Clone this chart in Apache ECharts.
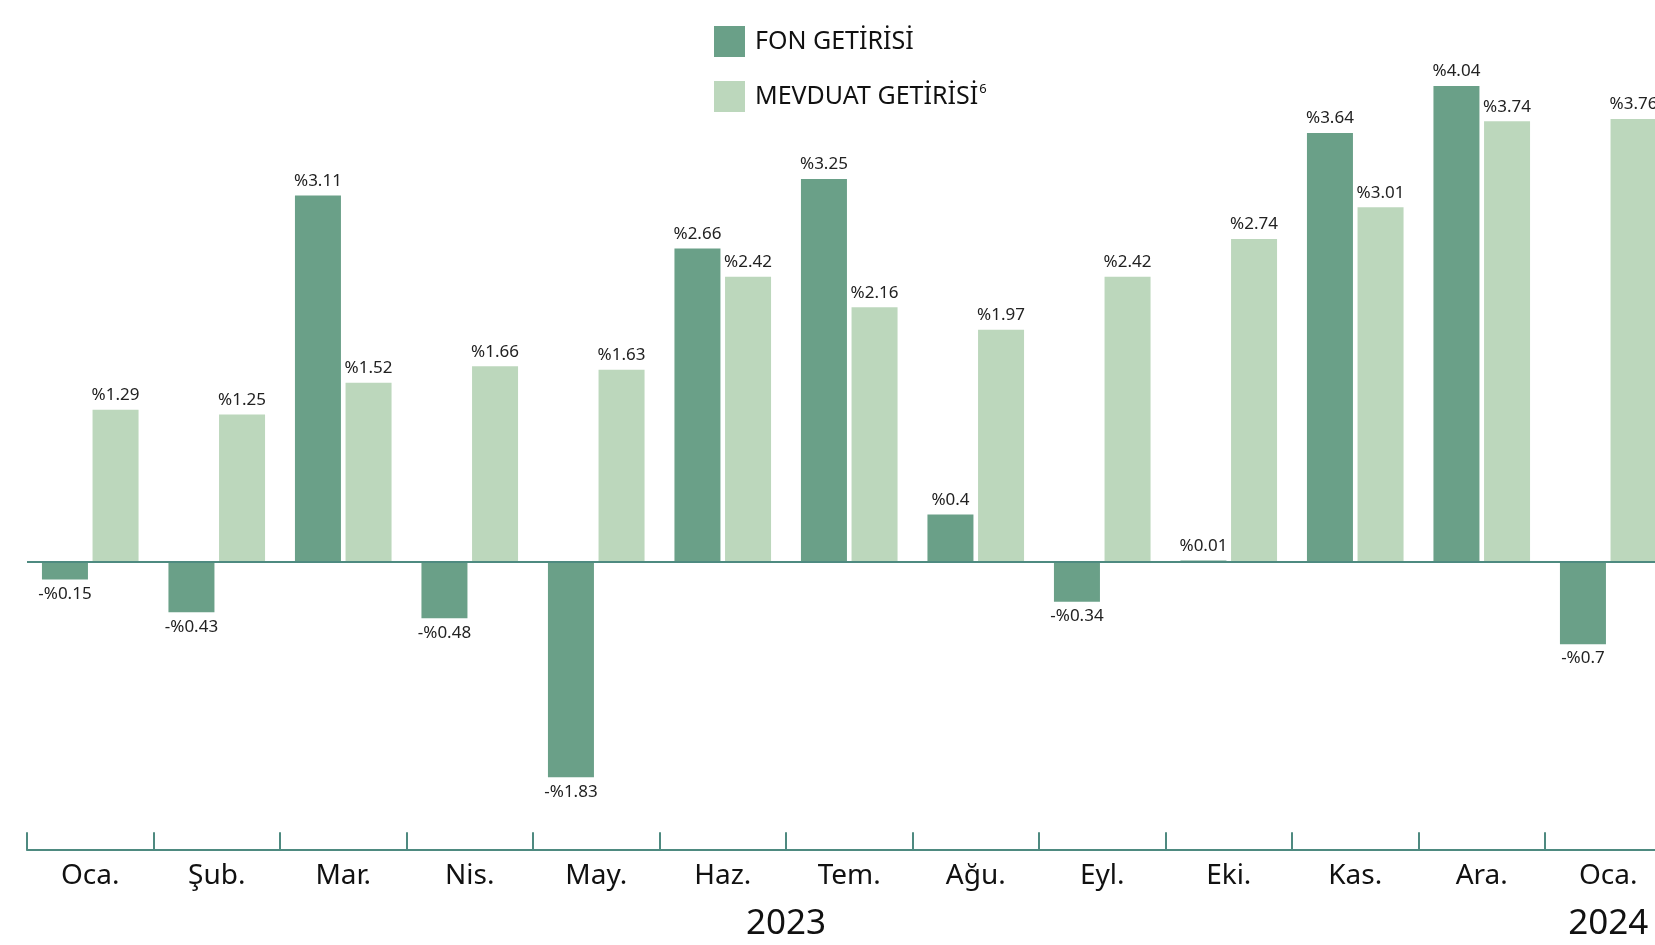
<!DOCTYPE html>
<html>
<head>
<meta charset="utf-8">
<script src="https://cdn.jsdelivr.net/npm/echarts@6/dist/echarts.min.js"></script>
<style>
html,body{margin:0;padding:0;background:#fff;}
#main{width:1655px;height:945px;}
</style>
</head>
<body>
<div id="main"></div>
<script>
// ---- data ----
const months = ['Oca.','Şub.','Mar.','Nis.','May.','Haz.','Tem.','Ağu.','Eyl.','Eki.','Kas.','Ara.','Oca.'];
const monthYears = ['2023','2023','2023','2023','2023','2023','2023','2023','2023','2023','2023','2023','2024'];
const fonGetirisi = [-0.15,-0.43,3.11,-0.48,-1.83,2.66,3.25,0.4,-0.34,0.01,3.64,4.04,-0.7];
const mevduatGetirisi = [1.29,1.25,1.52,1.66,1.63,2.42,2.16,1.97,2.42,2.74,3.01,3.74,3.76];
const seriesNames = ['FON GETİRİSİ','MEVDUAT GETİRİSİ'];

// ---- build ----
const FONT = 'Noto Sans';
const DARK = '#6aa088';
const LIGHT = '#bcd7bc';
const AXIS = '#4e8a80';

function fmt(v){ return v < 0 ? '-%' + Math.abs(v) : '%' + v; }
function items(arr){
  return arr.map(v => ({value: v, label: {position: v < 0 ? 'bottom' : 'top'}}));
}
// year span centres (in category units)
const yearCenters = [];
const yearNames = [];
let start = 0;
for (let i = 1; i <= monthYears.length; i++) {
  if (i === monthYears.length || monthYears[i] !== monthYears[start]) {
    yearNames.push(monthYears[start]);
    yearCenters.push((start + i) / 2);
    start = i;
  }
}

const chart = echarts.init(document.getElementById('main'));
const labelCfg = {
  show: true,
  formatter: p => fmt(p.value),
  fontFamily: FONT,
  fontSize: 17,
  color: '#222',
  distance: 6
};
chart.setOption({
  animation: false,
  textStyle: {fontFamily: FONT},
  legend: {
    orient: 'vertical',
    left: 714,
    top: 26,
    padding: 0,
    itemWidth: 31,
    itemHeight: 31,
    itemGap: 24,
    icon: 'rect',
    data: seriesNames,
    formatter: n => n === seriesNames[1] ? n + '{sup|6}' : n,
    textStyle: {
      fontFamily: FONT,
      fontSize: 25,
      color: '#111',
      padding: [0,0,0,5],
      rich: {
        sup: {fontSize: 13, fontFamily: FONT, color: '#111', padding: [0,0,14,1]}
      }
    }
  },
  grid: {
    left: 27,
    top: 2.4,
    bottom: 94.8,
    width: 1644.5,
    containLabel: false,
    outerBoundsMode: 'none'
  },
  xAxis: [
    {
      type: 'category',
      data: months,
      position: 'bottom',
      axisLine: {onZero: false, lineStyle: {color: AXIS, width: 2}},
      axisTick: {show: true, inside: true, length: 18, lineStyle: {color: AXIS, width: 2}},
      axisLabel: {fontFamily: FONT, fontSize: 28, color: '#111', margin: 12, interval: 0},
      splitLine: {show: false}
    },
    {
      type: 'value',
      min: 0,
      max: months.length,
      position: 'bottom',
      axisLine: {show: false},
      axisTick: {show: false},
      splitLine: {show: false},
      axisLabel: {
        show: true,
        customValues: yearCenters,
        formatter: v => yearNames[yearCenters.indexOf(v)] || '',
        fontFamily: FONT,
        fontSize: 35,
        color: '#111',
        margin: 56
      }
    }
  ],
  yAxis: {
    type: 'value',
    min: -2.45,
    max: 4.75,
    show: false,
    splitLine: {show: false}
  },
  series: [
    {
      name: seriesNames[0],
      type: 'bar',
      xAxisIndex: 0,
      data: items(fonGetirisi),
      barWidth: 46,
      barGap: '10%',
      itemStyle: {color: DARK},
      label: labelCfg,
      markLine: {
        silent: true,
        symbol: 'none',
        label: {show: false},
        lineStyle: {color: AXIS, width: 2, type: 'solid'},
        data: [{yAxis: 0}],
        z: 10
      }
    },
    {
      name: seriesNames[1],
      type: 'bar',
      xAxisIndex: 0,
      data: items(mevduatGetirisi),
      barWidth: 46,
      barGap: '10%',
      itemStyle: {color: LIGHT},
      label: labelCfg
    }
  ]
});
</script>
</body>
</html>
